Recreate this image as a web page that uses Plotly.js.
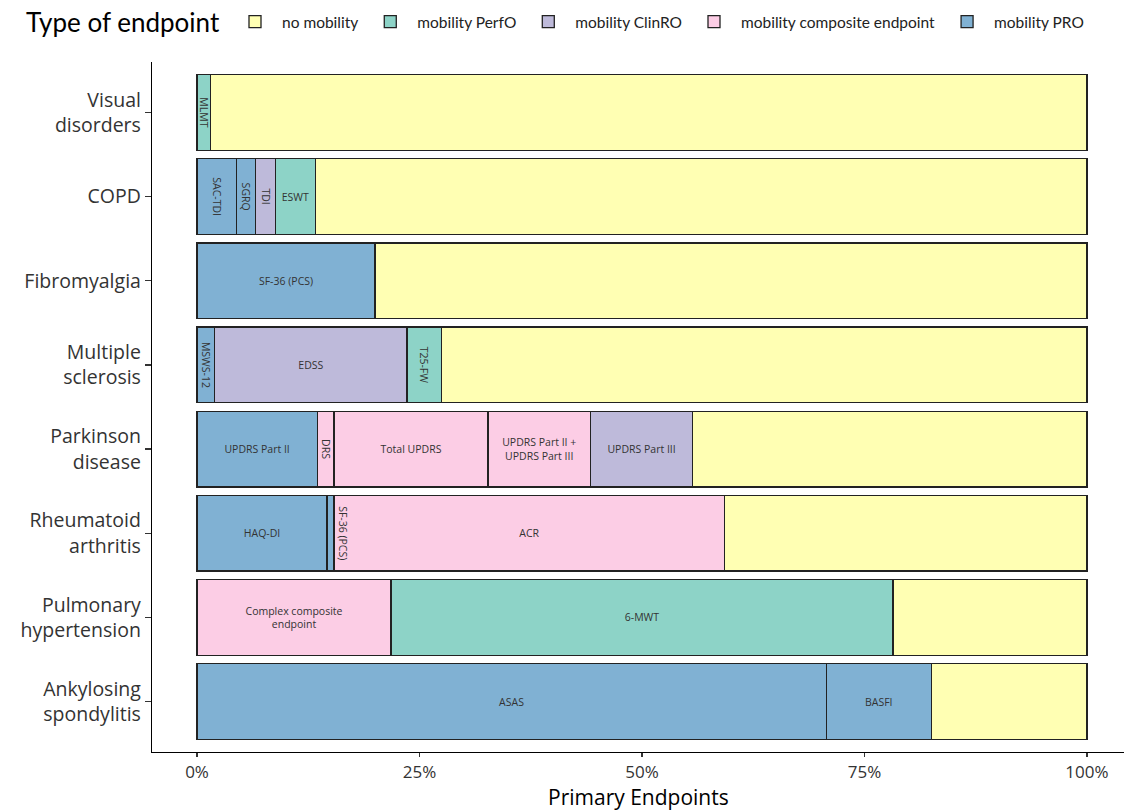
<!DOCTYPE html>
<html>
<head>
<meta charset="utf-8">
<script src="https://cdn.plot.ly/plotly-3.0.1.min.js"></script>
<style>html,body{margin:0;padding:0;background:#fff}#chart{width:1124px;height:811px}</style>
</head>
<body>
<div id="chart"></div>
<script>
// ---- data ----
const categories = ['Visual disorders', 'COPD', 'Fibromyalgia', 'Multiple sclerosis', 'Parkinson disease', 'Rheumatoid arthritis', 'Pulmonary hypertension', 'Ankylosing spondylitis'];
const categoryTickLabels = ['Visual<br>disorders', 'COPD', 'Fibromyalgia', 'Multiple<br>sclerosis', 'Parkinson<br>disease', 'Rheumatoid<br>arthritis', 'Pulmonary<br>hypertension', 'Ankylosing<br>spondylitis'];
const endpointTypes = ['no mobility', 'mobility PerfO', 'mobility ClinRO', 'mobility composite endpoint', 'mobility PRO'];
const legendTitle = 'Type of endpoint';
const xTitle = 'Primary Endpoints';

// segments, left to right within each disease
const segDisease = [
  'Visual disorders', 'Visual disorders',
  'COPD', 'COPD', 'COPD', 'COPD', 'COPD',
  'Fibromyalgia', 'Fibromyalgia',
  'Multiple sclerosis', 'Multiple sclerosis', 'Multiple sclerosis', 'Multiple sclerosis',
  'Parkinson disease', 'Parkinson disease', 'Parkinson disease', 'Parkinson disease', 'Parkinson disease', 'Parkinson disease',
  'Rheumatoid arthritis', 'Rheumatoid arthritis', 'Rheumatoid arthritis', 'Rheumatoid arthritis',
  'Pulmonary hypertension', 'Pulmonary hypertension', 'Pulmonary hypertension',
  'Ankylosing spondylitis', 'Ankylosing spondylitis', 'Ankylosing spondylitis'
];
const segLabel = [
  'MLMT', '',
  'SAC-TDI', 'SGRQ', 'TDI', 'ESWT', '',
  'SF-36 (PCS)', '',
  'MSWS-12', 'EDSS', 'T25-FW', '',
  'UPDRS Part II', 'DRS', 'Total UPDRS', 'UPDRS Part II +<br>UPDRS Part III', 'UPDRS Part III', '',
  'HAQ-DI', 'SF-36 (PCS)', 'ACR', '',
  'Complex composite<br>endpoint', '6-MWT', '',
  'ASAS', 'BASFI', ''
];
const segType = [
  'mobility PerfO', 'no mobility',
  'mobility PRO', 'mobility PRO', 'mobility ClinRO', 'mobility PerfO', 'no mobility',
  'mobility PRO', 'no mobility',
  'mobility PRO', 'mobility ClinRO', 'mobility PerfO', 'no mobility',
  'mobility PRO', 'mobility composite endpoint', 'mobility composite endpoint', 'mobility composite endpoint', 'mobility ClinRO', 'no mobility',
  'mobility PRO', 'mobility PRO', 'mobility composite endpoint', 'no mobility',
  'mobility composite endpoint', 'mobility PerfO', 'no mobility',
  'mobility PRO', 'mobility PRO', 'no mobility'
];
const segShare = [
  1.5, 98.5,
  4.4, 2.2, 2.2, 4.5, 86.7,
  20.0, 80.0,
  2.0, 21.6, 3.9, 72.5,
  13.5, 1.9, 17.3, 11.5, 11.5, 44.3,
  14.6, 0.8, 43.9, 40.7,
  21.8, 56.4, 21.8,
  70.7, 11.8, 17.5
];
const xTickValues = [0, 25, 50, 75, 100];
const xTickLabels = ['0%', '25%', '50%', '75%', '100%'];

// ---- styles ----
const W = 1124, H = 811;
const M = { l: 152, r: 0, t: 62, b: 59 };
const typeColors = {
  'no mobility': '#FFFFB3',
  'mobility PerfO': '#8DD3C7',
  'mobility ClinRO': '#BEBADA',
  'mobility composite endpoint': '#FCCDE5',
  'mobility PRO': '#80B1D3'
};
const rotatedIdx = new Set([0, 2, 3, 4, 9, 11, 14, 20]);
const overflowIdx = new Set([20]); // label too wide for its bar: drawn just to its right
const labelFont = { family: 'Open Sans, sans-serif', size: 10.5, color: '#333' };

const traces = [];
const annotations = [];
const seen = new Set();
const cum = {};
segShare.forEach((v, i) => {
  const t = segType[i];
  const d = segDisease[i];
  const first = !seen.has(t);
  seen.add(t);
  const start = cum[d] || 0;
  cum[d] = start + v;
  const overflow = overflowIdx.has(i);
  if (overflow) {
    annotations.push({
      x: start + v, y: d, xref: 'x', yref: 'y',
      text: segLabel[i], showarrow: false, textangle: 90,
      xanchor: 'left', yanchor: 'middle',
      font: labelFont
    });
  }
  traces.push({
    type: 'bar',
    orientation: 'h',
    x: [v],
    y: [d],
    name: t,
    legendgroup: t,
    showlegend: first,
    legendrank: endpointTypes.indexOf(t) + 1,
    marker: { color: typeColors[t], line: { color: '#222', width: 1.3 } },
    text: [overflow ? '' : segLabel[i]],
    textposition: 'inside',
    insidetextanchor: 'middle',
    constraintext: 'none',
    textangle: rotatedIdx.has(i) ? 90 : 0,
    textfont: labelFont,
    hoverinfo: 'name+x'
  });
});

const plotW = W - M.l - M.r, plotH = H - M.t - M.b;
const pxToPaperY = p => (H - M.b - p) / plotH;
// legend title drawn as a header annotation to the left of the legend items
annotations.push({
  xref: 'paper', yref: 'paper',
  x: (24 - M.l) / plotW, y: pxToPaperY(22),
  xanchor: 'left', yanchor: 'middle',
  text: legendTitle, showarrow: false,
  font: { family: 'Lato, sans-serif', size: 26, color: '#000' }
});
// x-axis title placed at the bottom of the figure
annotations.push({
  xref: 'paper', yref: 'paper',
  x: 0.5, y: pxToPaperY(H + 2),
  xanchor: 'center', yanchor: 'bottom',
  text: xTitle, showarrow: false,
  font: { family: 'Open Sans, sans-serif', size: 21, color: '#000' }
});

const layout = {
  width: W, height: H,
  margin: M,
  barmode: 'stack',
  bargap: 0.1,
  paper_bgcolor: '#fff', plot_bgcolor: '#fff',
  showlegend: true,
  annotations: annotations,
  legend: {
    orientation: 'h',
    xref: 'container', yref: 'container',
    x: 228 / W, y: 1 - 22 / H, xanchor: 'left', yanchor: 'middle',
    itemwidth: 44,
    font: { family: 'Lato, sans-serif', size: 15.5, color: '#222' },
    traceorder: 'normal'
  },
  xaxis: {
    range: [-5.06, 104.16],
    tickvals: xTickValues, ticktext: xTickLabels,
    ticks: 'outside', ticklen: 4, tickcolor: '#333', tickwidth: 1.2,
    showline: true, linecolor: '#000', linewidth: 1.2,
    showgrid: false, zeroline: false,
    tickfont: { family: 'Open Sans, sans-serif', size: 17, color: '#333' },
    fixedrange: true
  },
  yaxis: {
    type: 'category',
    categoryorder: 'array', categoryarray: categories,
    tickvals: categories, ticktext: categoryTickLabels,
    range: [7.6, -0.6],
    ticks: 'outside', ticklen: 6, tickcolor: '#333', tickwidth: 1.2,
    showline: true, linecolor: '#000', linewidth: 1.2,
    showgrid: false, zeroline: false,
    tickfont: { family: 'Open Sans, sans-serif', size: 19.5, color: '#333' },
    fixedrange: true
  }
};

Plotly.newPlot('chart', traces, layout, { displayModeBar: false, staticPlot: true });
</script>
</body>
</html>
